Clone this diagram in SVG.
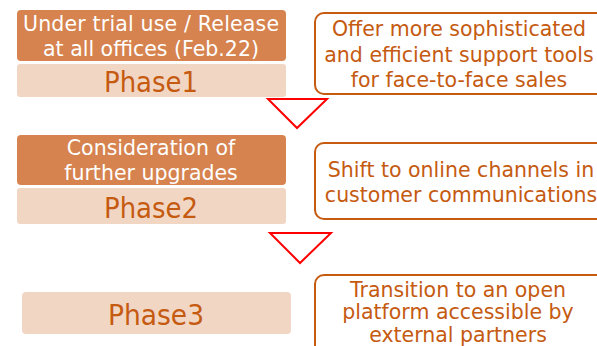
<svg xmlns="http://www.w3.org/2000/svg" width="597" height="346" viewBox="0 0 597 346">
  <style>
    text { font-family: "DejaVu Sans", "Liberation Sans", sans-serif; text-anchor: middle; }
    .head { fill: #D6834F; }
    .head-text { fill: #FFFFFF; font-size: 20.5px; }
    .phase { fill: #F2D6C4; }
    .phase-text { fill: #C55A11; font-size: 28px; }
    .goal { fill: #FFFFFF; stroke: #C55A11; stroke-width: 2; }
    .goal-text { fill: #C55A11; font-size: 20.5px; }
    .step { fill: #FFFFFF; stroke: #FF0000; stroke-width: 2; stroke-linejoin: miter; }
  </style>

  <rect width="597" height="346" fill="#FFFFFF"/>

  <!-- Phase 1 -->
  <g id="phase1">
    <rect class="head" x="17" y="10" width="269" height="51" rx="4"/>
    <text class="head-text" x="151" y="31" textLength="256">Under trial use / Release</text>
    <text class="head-text" x="151" y="56">at all offices (Feb.22)</text>
    <rect class="phase" x="17" y="64" width="269" height="33" rx="3"/>
    <text class="phase-text" x="151" y="92" textLength="94" lengthAdjust="spacingAndGlyphs">Phase1</text>
  </g>

  <g id="goal1">
    <rect class="goal" x="315" y="13" width="290" height="81" rx="9"/>
    <text class="goal-text" x="459" y="36" textLength="254">Offer more sophisticated</text>
    <text class="goal-text" x="459" y="62">and efficient support tools</text>
    <text class="goal-text" x="459" y="87">for face-to-face sales</text>
  </g>

  <!-- Phase 2 -->
  <g id="phase2">
    <rect class="head" x="17" y="135" width="269" height="50" rx="4"/>
    <text class="head-text" x="151" y="155">Consideration of</text>
    <text class="head-text" x="151" y="180">further upgrades</text>
    <rect class="phase" x="17" y="188" width="269" height="36" rx="3"/>
    <text class="phase-text" x="151" y="218" textLength="94" lengthAdjust="spacingAndGlyphs">Phase2</text>
  </g>

  <g id="goal2">
    <rect class="goal" x="315" y="143" width="290" height="76" rx="9"/>
    <text class="goal-text" x="461" y="177">Shift to online channels in</text>
    <text class="goal-text" x="461" y="202">customer communications</text>
  </g>

  <!-- Phase 3 -->
  <g id="phase3">
    <rect class="phase" x="22" y="292" width="269" height="42" rx="4"/>
    <text class="phase-text" x="156" y="325" textLength="96" lengthAdjust="spacingAndGlyphs">Phase3</text>
  </g>

  <g id="goal3">
    <rect class="goal" x="315" y="275" width="290" height="90" rx="9"/>
    <text class="goal-text" x="458" y="297">Transition to an open</text>
    <text class="goal-text" x="458" y="319">platform accessible by</text>
    <text class="goal-text" x="458" y="342">external partners</text>
  </g>

  <!-- step arrows between phases -->
  <g id="connectors">
    <polygon class="step" points="268,99 327,99 297,128"/>
    <polygon class="step" points="270,233 331,233 300,263"/>
  </g>
</svg>
